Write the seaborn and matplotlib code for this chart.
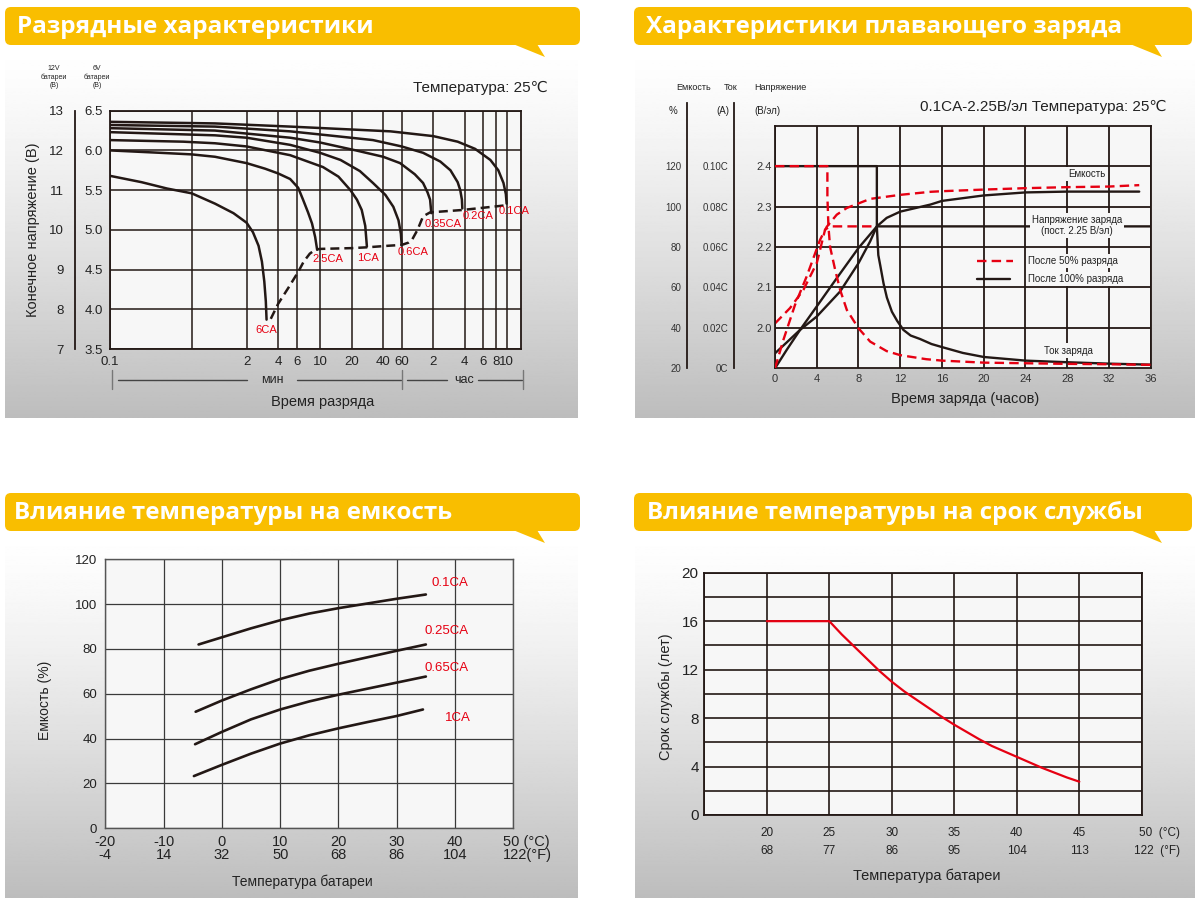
import matplotlib
matplotlib.use("Agg")
import matplotlib.pyplot as plt
from matplotlib.patches import FancyBboxPatch, Polygon
from matplotlib.ticker import NullLocator
import numpy as np
import seaborn as sns

W, H = 1200, 906
INK = "#231815"
RED = "#e60012"
YELLOW = "#f9be00"
PLOT_BG = "#f7f7f7"
TXT = "#222222"
SANS = ["Liberation Sans", "DejaVu Sans"]
BOLD = ["Open Sans", "DejaVu Sans"]

titles = ["Разрядные характеристики", "Характеристики плавающего заряда",
          "Влияние температуры на емкость", "Влияние температуры на срок службы"]

# --- discharge characteristics (time in minutes, volts per 6V block) ---
dis_ticks = [0.1, 0.6, 2, 4, 6, 10, 20, 40, 60, 120, 240, 360, 480, 600]
dis_ticklabels = ["0.1", "", "2", "4", "6", "10", "20", "40", "60", "2", "4", "6", "8", "10"]
v6_ticks = [3.5, 4.0, 4.5, 5.0, 5.5, 6.0, 6.5]
v12_ticks = [7, 8, 9, 10, 11, 12, 13]

t_6ca = [0.1, 0.2, 0.35, 0.6, 1.0, 1.5, 2.0, 2.3, 2.6, 2.8, 2.95, 3.05, 3.1]
v_6ca = [5.68, 5.6, 5.52, 5.46, 5.33, 5.21, 5.09, 4.97, 4.8, 4.6, 4.35, 4.1, 3.87]
t_25ca = [0.1, 0.3, 0.6, 1, 2, 3, 4, 5.2, 6.2, 6.9, 7.7, 8.4, 9.0, 9.4]
v_25ca = [6.0, 5.97, 5.95, 5.92, 5.84, 5.77, 5.71, 5.64, 5.53, 5.38, 5.22, 5.08, 4.91, 4.75]
t_1ca = [0.1, 0.5, 1, 2, 5.2, 10.7, 15, 19.5, 22.5, 25, 27, 28]
v_1ca = [6.13, 6.11, 6.09, 6.05, 5.94, 5.79, 5.67, 5.5, 5.38, 5.25, 5.05, 4.79]
t_06ca = [0.1, 1, 2, 5.2, 10, 15.7, 24, 32, 42, 50, 56, 59, 60]
v_06ca = [6.23, 6.19, 6.16, 6.07, 5.97, 5.88, 5.74, 5.59, 5.44, 5.29, 5.12, 4.95, 4.81]
t_035ca = [0.1, 1, 5.2, 10, 22, 40, 58, 80, 96, 106, 112, 115]
v_035ca = [6.28, 6.25, 6.16, 6.1, 6.0, 5.92, 5.84, 5.7, 5.59, 5.47, 5.38, 5.21]
t_02ca = [0.1, 1, 5.2, 12, 32, 60, 96, 140, 175, 205, 217, 225, 227]
v_02ca = [6.32, 6.3, 6.24, 6.19, 6.13, 6.05, 5.97, 5.86, 5.75, 5.6, 5.5, 5.38, 5.27]
t_01ca = [0.1, 1, 5.2, 47, 120, 205, 300, 420, 500, 560, 590, 600]
v_01ca = [6.36, 6.34, 6.3, 6.24, 6.18, 6.11, 6.02, 5.88, 5.75, 5.59, 5.45, 5.33]
t_end = [3.4, 4, 5, 6.2, 7, 8, 9, 10, 20, 28, 45, 60, 70, 75, 85, 96, 112, 227, 600]
v_end = [3.88, 4.07, 4.27, 4.47, 4.6, 4.7, 4.75, 4.76, 4.77, 4.78, 4.8, 4.81, 4.84, 4.87, 5.0, 5.17, 5.22, 5.25, 5.31]
dis_names = ["6CA", "2.5CA", "1CA", "0.6CA", "0.35CA", "0.2CA", "0.1CA"]
dis_label_t = [3.08, 12.0, 28.9, 77.8, 150, 318, 700]
dis_label_v = [3.74, 4.63, 4.64, 4.72, 5.07, 5.17, 5.24]

# --- float charge characteristics (hours) ---
chg_ticks = list(range(0, 37, 4))
volt_ticks = [2.0, 2.1, 2.2, 2.3, 2.4]
cap_ticks = [20, 40, 60, 80, 100, 120, 140]
cap_ticklabels = ["20", "40", "60", "80", "100", "120", ""]
cur_ticks = [0, 0.02, 0.04, 0.06, 0.08, 0.10, 0.12]
cur_ticklabels = ["0C", "0.02C", "0.04C", "0.06C", "0.08C", "0.10C", ""]

t_v100 = [0, 1.12, 2.4, 4.0, 6.24, 8.0, 9.12, 9.76, 36]
v_v100 = [1.937, 1.964, 1.995, 2.028, 2.09, 2.16, 2.214, 2.251, 2.251]
t_c100 = [0, 1.12, 2.4, 4.0, 5.92, 8.0, 9.76, 10.7, 12, 14.9, 16, 20, 24, 28, 34.9]
c_c100 = [20, 29.1, 39, 50.6, 64.6, 79.5, 90.2, 94.4, 97.5, 101, 102.8, 105.5, 107, 107.4, 107.4]
t_i100 = [0, 9.76, 9.76, 9.9, 10.1, 10.4, 10.72, 11.2, 11.7, 12.3, 13, 13.9, 15, 16, 18, 20, 24, 28, 32, 36]
i_i100 = [0.1, 0.1, 0.07, 0.056, 0.0505, 0.042, 0.035, 0.028, 0.0235, 0.019, 0.0162, 0.0145, 0.012,
          0.0105, 0.0076, 0.0056, 0.0038, 0.003, 0.0023, 0.0018]
t_v50 = [0, 1.44, 2.72, 4.0, 4.8, 5.28, 9.76]
v_v50 = [2.011, 2.049, 2.094, 2.16, 2.243, 2.251, 2.251]
t_c50 = [0, 0.8, 1.92, 3.04, 4.32, 4.96, 5.92, 6.88, 9.12, 12, 14.9, 16, 20, 24, 28, 32, 34.9]
c_c50 = [20, 34, 51.4, 65.5, 83.6, 90, 96, 99.3, 103.8, 105.8, 107.3, 107.6, 108.4, 109.1, 109.6, 109.9, 110.6]
t_i50 = [0, 5.02, 5.02, 5.12, 5.28, 5.76, 6.24, 6.88, 8.0, 9.12, 10.7, 12, 14.5, 16, 20, 24, 28, 32, 36]
i_i50 = [0.1, 0.1, 0.085, 0.0702, 0.06, 0.0488, 0.0388, 0.0289, 0.0198, 0.0132, 0.0085, 0.0065,
         0.0045, 0.0038, 0.0028, 0.0025, 0.0022, 0.002, 0.0017]

# --- temperature vs capacity ---
temp_c_ticks = [-20, -10, 0, 10, 20, 30, 40, 50]
temp_f_ticks = [-4, 14, 32, 50, 68, 86, 104, 122]
cap_pct_ticks = [0, 20, 40, 60, 80, 100, 120]
tc_01 = [-4, 0, 5, 10, 15, 20, 25, 30, 35]
cap_01 = [82, 85.2, 89.2, 92.8, 95.8, 98.2, 100.3, 102.4, 104.3]
tc_025 = [-4.5, 0, 5, 10, 15, 20, 25, 30, 35]
cap_025 = [52, 57, 62, 66.6, 70.3, 73.4, 76.3, 79.2, 82]
tc_065 = [-4.6, 0, 5, 10, 15, 20, 25, 30, 35]
cap_065 = [37.5, 43, 48.6, 53, 56.6, 59.6, 62.3, 65, 67.7]
tc_1 = [-4.8, 0, 5, 10, 15, 20, 25, 30, 34.5]
cap_1 = [23.3, 28.3, 33.3, 37.8, 41.5, 44.6, 47.4, 50.1, 53]
cap_names = ["0.1CA", "0.25CA", "0.65CA", "1CA"]
cap_label_t = [39.2, 38.6, 38.6, 40.5]
cap_label_y = [109.5, 88, 71.5, 49]

# --- temperature vs service life ---
life_c_ticks = [20, 25, 30, 35, 40, 45]
life_f_ticks = [68, 77, 86, 95, 104, 113]
life_t = [20, 25, 26, 27, 28, 29, 30, 31, 32, 33, 34, 35, 36, 37, 38, 39, 40, 41, 42, 43, 44, 45]
life_y = [16, 16, 14.9, 13.9, 12.9, 11.9, 11.0, 10.2, 9.5, 8.8, 8.1, 7.45, 6.85, 6.25, 5.7,
          5.25, 4.8, 4.35, 3.9, 3.5, 3.1, 2.75]


def rect(x0, y0, x1, y1):
    return [x0 / W, 1 - y1 / H, (x1 - x0) / W, (y1 - y0) / H]


def draw(ax, x, y, color=INK, lw=1.7, dashes=None):
    kw = dict(color=color, linewidth=lw, sort=False, estimator=None)
    if dashes is not None:
        kw["linestyle"] = (0, dashes)
    sns.lineplot(x=x, y=y, ax=ax, **kw)


def frame(ax, color=INK, lw=1.3):
    for s in ax.spines.values():
        s.set_visible(True)
        s.set_color(color)
        s.set_linewidth(lw)


def side_scale(rect_px, lim, ticks, labels):
    a = fig.add_axes(rect(*rect_px))
    a.patch.set_visible(False)
    a.set_ylim(*lim)
    a.set_xticks([])
    a.set_yticks(ticks)
    a.set_yticklabels(labels)
    for s in ["top", "right", "bottom"]:
        a.spines[s].set_visible(False)
    a.spines["left"].set_color(INK)
    a.spines["left"].set_linewidth(1.3)
    return a


sns.set_theme(style="white")
plt.rcParams["font.family"] = SANS

fig = plt.figure(figsize=(W / 100, H / 100), dpi=100)
fig.patch.set_facecolor("white")

# background: gradient panels + yellow banners
bg = fig.add_axes([0, 0, 1, 1], zorder=-1)
shade = 1 - 0.26 * np.linspace(0, 1, 256)[:, None] ** 1.3
for x0, y0, x1, y1 in [(5, 45, 578, 418), (635, 45, 1195, 418), (5, 531, 578, 898), (635, 531, 1195, 898)]:
    bg.imshow(shade, extent=(x0, x1, y1, y0), cmap="gray", vmin=0, vmax=1, aspect="auto")
bg.set_xlim(0, W)
bg.set_ylim(H, 0)
bg.axis("off")
banners = [(5, 7, 580, 45, 17), (634, 7, 1192, 45, 646), (5, 493, 580, 531, 14), (634, 493, 1192, 531, 647)]
for (x0, y0, x1, y1, tx), title in zip(banners, titles):
    bg.add_patch(FancyBboxPatch((x0, y0), x1 - x0, y1 - y0, boxstyle="round,pad=0,rounding_size=6",
                                fc=YELLOW, ec="none"))
    tail = x1 - 67 if x0 < 600 else x1 - 62
    bg.add_patch(Polygon([(tail, y1 - 1), (tail + 32, y1 + 12), (tail + 24, y1 - 1)], fc=YELLOW, ec="none"))
    bg.text(tx, (y0 + y1) / 2 + 1, title, color="white", fontsize=17.5, fontweight="bold",
            family=BOLD, va="center", ha="left")

# ---------------- panel 1: discharge ----------------
ax1 = fig.add_axes(rect(110, 110.7, 520.7, 349))
ax1.set_facecolor(PLOT_BG)
for t, v in [(t_6ca, v_6ca), (t_25ca, v_25ca), (t_1ca, v_1ca), (t_06ca, v_06ca),
             (t_035ca, v_035ca), (t_02ca, v_02ca), (t_01ca, v_01ca)]:
    draw(ax1, t, v, lw=1.8)
draw(ax1, t_end, v_end, lw=1.8, dashes=(3.6, 2.0))
ax1.set_xscale("log")
ax1.set_xlim(0.1, 817)
ax1.set_ylim(3.5, 6.5)
ax1.set_xticks(dis_ticks)
ax1.set_xticklabels(dis_ticklabels)
ax1.xaxis.set_minor_locator(NullLocator())
ax1.set_yticks(v6_ticks)
ax1.set_yticklabels([f"{v:.1f}" for v in v6_ticks])
ax1.grid(True, color=INK, linewidth=1.1)
ax1.tick_params(length=0, labelsize=9.5, labelcolor=TXT, pad=5)
ax1.set_xlabel("")
ax1.set_ylabel("")
frame(ax1, INK, 1.3)
for name, t, v in zip(dis_names, dis_label_t, dis_label_v):
    ax1.text(t, v, name, color=RED, fontsize=8, ha="center", va="center")

ax1v = side_scale((75, 110.7, 76, 349), (7, 13), v12_ticks, [str(v) for v in v12_ticks])
ax1v.tick_params(axis="y", direction="in", length=4, width=1.2, color=INK, labelsize=9.5,
                 labelcolor=TXT, pad=8)

bg.text(54, 77, "12V\nбатареи\n(В)", fontsize=5, ha="center", va="center", color=TXT, linespacing=1.15)
bg.text(97, 77, "6V\nбатареи\n(В)", fontsize=5, ha="center", va="center", color=TXT, linespacing=1.15)
bg.text(548, 88, "Температура: 25℃", fontsize=11, ha="right", va="center", color=TXT)
bg.text(33, 230, "Конечное напряжение (В)", fontsize=10.5, rotation=90, ha="center", va="center", color=TXT)
for xa, xb in [(118, 247), (297, 401), (407, 447), (478, 522)]:
    bg.plot([xa, xb], [380, 380], color="#444444", lw=1)
for xv in [112, 402, 523]:
    bg.plot([xv, xv], [370, 389], color="#777777", lw=1)
bg.text(272, 380, "мин", fontsize=9, ha="center", va="center", color=TXT)
bg.text(464, 380, "час", fontsize=9, ha="center", va="center", color=TXT)
bg.text(323, 402, "Время разряда", fontsize=10.5, ha="center", va="center", color=TXT)

# ---------------- panel 2: float charge ----------------
ax2 = fig.add_axes(rect(775, 125.7, 1150.7, 368.3))
ax2.set_facecolor(PLOT_BG)
draw(ax2, t_v100, v_v100, lw=1.7)
draw(ax2, t_v50, v_v50, color=RED, lw=1.7, dashes=(4, 2.2))
ax2.set_xlim(0, 36)
ax2.set_ylim(1.9, 2.5)
ax2.set_xticks(chg_ticks)
ax2.set_yticks(volt_ticks)
ax2.set_yticklabels([f"{v:.1f}" for v in volt_ticks])
ax2.grid(True, color=INK, linewidth=1.3)
ax2.tick_params(length=0, labelsize=8, labelcolor="#333333", pad=2.5)
ax2.tick_params(axis="x", labelsize=8, pad=4)
ax2.set_xlabel("")
ax2.set_ylabel("")
frame(ax2, INK, 1.3)

ax2c = ax2.twinx()
draw(ax2c, t_c100, c_c100, lw=1.7)
draw(ax2c, t_c50, c_c50, color=RED, lw=1.7, dashes=(4, 2.2))
ax2c.set_ylim(20, 140)
ax2c.axis("off")
ax2i = ax2.twinx()
draw(ax2i, t_i100, i_i100, lw=1.7)
draw(ax2i, t_i50, i_i50, color=RED, lw=1.7, dashes=(4, 2.2))
ax2i.set_ylim(0, 0.12)
ax2i.axis("off")

axc = side_scale((687.3, 102.7, 688.3, 368.3), (20, 151.4), cap_ticks, cap_ticklabels)
axi = side_scale((734, 102.7, 735, 368.3), (0, 0.1314), cur_ticks, cur_ticklabels)
for a in (axc, axi):
    a.tick_params(axis="y", direction="in", length=5, width=1.2, color=INK, labelsize=7,
                  labelcolor="#333333", pad=4)

for x, word in [(694, "Емкость"), (731, "Ток"), (780, "Напряжение")]:
    bg.text(x, 88, word, fontsize=6.5, ha="center", va="center", color=TXT)
for x, word in [(673, "%"), (722.7, "(A)"), (767, "(В/эл)")]:
    bg.text(x, 110.7, word, fontsize=7, ha="center", va="center", color=TXT)
bg.text(1167, 107, "0.1CA-2.25В/эл Температура: 25℃", fontsize=11, ha="right", va="center", color=TXT)
bg.text(965, 399, "Время заряда (часов)", fontsize=10.5, ha="center", va="center", color=TXT)

top = fig.add_axes([0, 0, 1, 1], zorder=10)
top.set_xlim(0, W)
top.set_ylim(H, 0)
top.axis("off")
box = dict(fc=PLOT_BG, ec="none", pad=1.5)
top.text(1086.7, 174, "Емкость", fontsize=7, ha="center", va="center", color=TXT, bbox=box)
top.text(1076.7, 225.5, "Напряжение заряда\n(пост. 2.25 В/эл)", fontsize=7, ha="center", va="center",
         color=TXT, bbox=box, linespacing=1.15)
top.text(1068.3, 350.5, "Ток заряда", fontsize=7, ha="center", va="center", color=TXT, bbox=box)
top.plot([976.7, 1013.3], [261, 261], color=RED, lw=1.7, linestyle=(0, (4, 2.2)))
top.plot([976.7, 1010], [279.3, 279.3], color=INK, lw=1.7)
top.text(1028.3, 261, "После 50% разряда", fontsize=7, ha="left", va="center", color=TXT, bbox=box)
top.text(1028.3, 279.3, "После 100% разряда", fontsize=7, ha="left", va="center", color=TXT, bbox=box)

# ---------------- panel 3: temperature vs capacity ----------------
ax3 = fig.add_axes(rect(105.3, 559.3, 513.3, 828.3))
ax3.set_facecolor(PLOT_BG)
for t, c in [(tc_01, cap_01), (tc_025, cap_025), (tc_065, cap_065), (tc_1, cap_1)]:
    draw(ax3, t, c, lw=1.9)
ax3.set_xlim(-20, 50)
ax3.set_ylim(0, 120)
ax3.set_xticks(temp_c_ticks)
ax3.set_xticklabels([])
ax3.set_yticks(cap_pct_ticks)
ax3.grid(True, color="#3a3a3a", linewidth=0.9)
ax3.tick_params(length=0, labelsize=9.5, labelcolor=TXT, pad=6)
ax3.set_xlabel("")
ax3.set_ylabel("")
frame(ax3, "#555555", 1.0)
xt3 = ax3.get_xaxis_transform()
for c, f in zip(temp_c_ticks[:-1], temp_f_ticks[:-1]):
    ax3.text(c, -0.05, str(c), transform=xt3, fontsize=10.5, ha="center", va="center", color=TXT)
    ax3.text(c, -0.099, str(f), transform=xt3, fontsize=10.5, ha="center", va="center", color=TXT)
ax3.text(48.2, -0.05, f"{temp_c_ticks[-1]} (°C)", transform=xt3, fontsize=10.5, ha="left", va="center", color=TXT)
ax3.text(48.2, -0.099, f"{temp_f_ticks[-1]}(°F)", transform=xt3, fontsize=10.5, ha="left", va="center", color=TXT)
for name, t, c in zip(cap_names, cap_label_t, cap_label_y):
    ax3.text(t, c, name, color=RED, fontsize=9.5, ha="center", va="center")
bg.text(45, 700, "Емкость (%)", fontsize=10, rotation=90, ha="center", va="center", color=TXT)
bg.text(302, 881.7, "Температура батареи", fontsize=10, ha="center", va="center", color=TXT)

# ---------------- panel 4: temperature vs service life ----------------
ax4 = fig.add_axes(rect(704.3, 572.7, 1141.8, 815))
ax4.set_facecolor(PLOT_BG)
draw(ax4, life_t, life_y, color=RED, lw=1.6)
ax4.set_xlim(15, 50)
ax4.set_ylim(0, 20)
ax4.set_xticks(list(range(15, 51, 5)))
ax4.set_xticklabels([])
ax4.set_yticks(list(range(0, 21, 2)))
ax4.set_yticklabels([str(v) if v % 4 == 0 else "" for v in range(0, 21, 2)])
ax4.grid(True, color=INK, linewidth=1.2)
ax4.tick_params(length=0, labelsize=11, labelcolor=TXT, pad=4)
ax4.set_xlabel("")
ax4.set_ylabel("")
frame(ax4, INK, 1.3)
xt4 = ax4.get_xaxis_transform()
for c, f in zip(life_c_ticks, life_f_ticks):
    ax4.text(c, -0.073, str(c), transform=xt4, fontsize=8.5, ha="center", va="center", color=TXT)
    ax4.text(c, -0.147, str(f), transform=xt4, fontsize=8.5, ha="center", va="center", color=TXT)
ax4.text(49.8, -0.073, "50  (°C)", transform=xt4, fontsize=8.5, ha="left", va="center", color=TXT)
ax4.text(49.4, -0.147, "122  (°F)", transform=xt4, fontsize=8.5, ha="left", va="center", color=TXT)
bg.text(666, 697, "Срок службы (лет)", fontsize=10.5, rotation=90, ha="center", va="center", color=TXT)
bg.text(927, 876, "Температура батареи", fontsize=10.5, ha="center", va="center", color=TXT)

fig.savefig("out.png", dpi=100)
